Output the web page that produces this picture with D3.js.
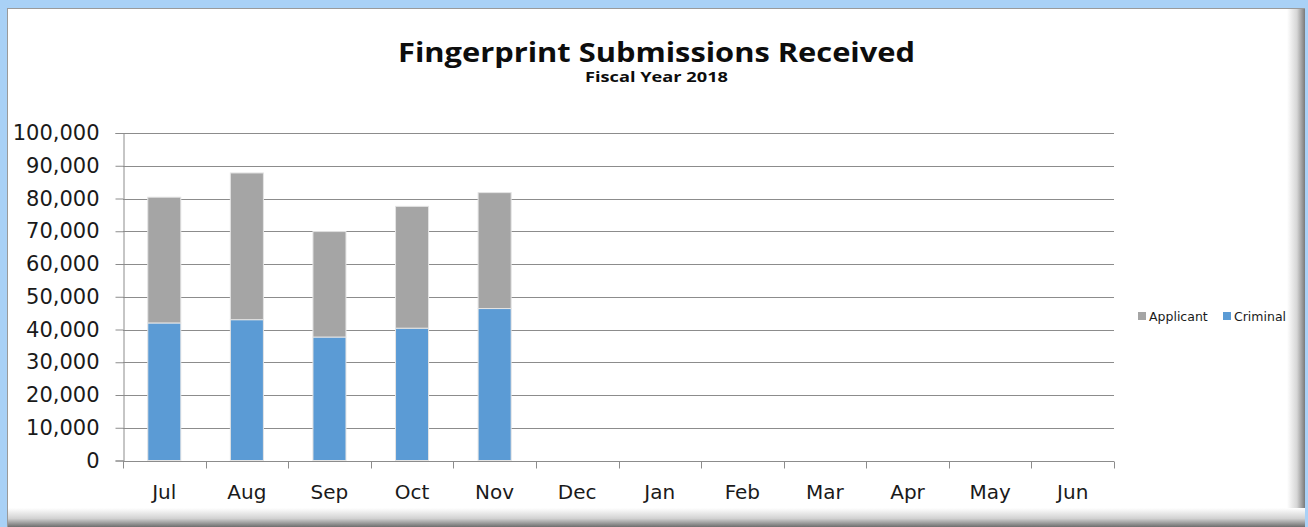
<!DOCTYPE html>
<html>
<head>
<meta charset="utf-8">
<script src="https://cdn.jsdelivr.net/npm/d3@7/dist/d3.min.js"></script>
<style>
  html, body { margin: 0; padding: 0; background: #ffffff; }
  svg { display: block; }
</style>
</head>
<body>
<svg id="chart" width="1308" height="527"></svg>
<script>
// Fiscal year months and monthly submission counts
const months = ["Jul", "Aug", "Sep", "Oct", "Nov", "Dec", "Jan", "Feb", "Mar", "Apr", "May", "Jun"];
const criminal = [42000, 43000, 37700, 40400, 46400];
const applicant = [38400, 44800, 32200, 37200, 35400];
const yTicks = [0, 10000, 20000, 30000, 40000, 50000, 60000, 70000, 80000, 90000, 100000];
const seriesNames = ["Applicant", "Criminal"];

const colors = { Applicant: "#a5a5a5", Criminal: "#5b9bd5" };

const W = 1308, H = 527;
const plot = { left: 123, right: 1114, top: 133, bottom: 460.5 };

const svg = d3.select("#chart");
const defs = svg.append("defs");

// Window-style frame with a soft drop shadow on the right and bottom
const gR = defs.append("linearGradient").attr("id", "shadeR").attr("x1", 0).attr("x2", 1).attr("y1", 0).attr("y2", 0);
gR.append("stop").attr("offset", 0).attr("stop-color", "#ffffff");
gR.append("stop").attr("offset", 0.55).attr("stop-color", "#d6d6d6");
gR.append("stop").attr("offset", 1).attr("stop-color", "#7a7a7a");
const gB = defs.append("linearGradient").attr("id", "shadeB").attr("x1", 0).attr("x2", 0).attr("y1", 0).attr("y2", 1);
gB.append("stop").attr("offset", 0).attr("stop-color", "#ffffff");
gB.append("stop").attr("offset", 0.55).attr("stop-color", "#d2d2d2");
gB.append("stop").attr("offset", 1).attr("stop-color", "#6e6e6e");

svg.append("rect").attr("x", 0).attr("y", 0).attr("width", W).attr("height", H).attr("fill", "#a9d1f6");
svg.append("rect").attr("x", 7).attr("y", 8).attr("width", 1298).attr("height", H - 8).attr("fill", "#ffffff");
svg.append("rect").attr("x", 1287).attr("y", 8).attr("width", 18).attr("height", H - 8).attr("fill", "url(#shadeR)");
svg.append("rect").attr("x", 7).attr("y", 508).attr("width", 1298).attr("height", 19).attr("fill", "url(#shadeB)");
svg.append("line").attr("x1", 7.5).attr("x2", 7.5).attr("y1", 8).attr("y2", H).attr("stroke", "#9a9a9a");
svg.append("line").attr("x1", 7).attr("x2", 1305).attr("y1", 8.5).attr("y2", 8.5).attr("stroke", "#9a9a9a");

// Scales
const x = d3.scaleBand().domain(months).range([plot.left, plot.right]).paddingInner(0.6).paddingOuter(0.3);
const xCat = d3.scaleBand().domain(months).range([plot.left, plot.right]).padding(0);
const y = d3.scaleLinear().domain([0, 100000]).range([plot.bottom, plot.top]);

const fmt = d3.format(",");
const axisFont = "'DejaVu Sans', 'Open Sans', sans-serif";

// Horizontal gridlines
svg.append("g").selectAll("line").data(yTicks.filter(d => d > 0)).join("line")
  .attr("x1", plot.left).attr("x2", plot.right)
  .attr("y1", d => Math.round(y(d)) + 0.5).attr("y2", d => Math.round(y(d)) + 0.5)
  .attr("stroke", "#8c8c8c").attr("stroke-width", 1);

// Y axis
const yAxis = svg.append("g").attr("transform", `translate(${plot.left + 0.5},0)`)
  .call(d3.axisLeft(y).tickValues(yTicks).tickFormat(fmt).tickSize(8).tickPadding(16));
yAxis.select(".domain").attr("stroke", "#8c8c8c");
yAxis.selectAll(".tick line").attr("stroke", "#8c8c8c");
yAxis.selectAll(".tick text").attr("font-family", axisFont).attr("font-size", 21).attr("fill", "#1a1a1a");

// Stacked bars: criminal at the base, applicant on top
const rows = criminal.map((c, i) => ({ month: months[i], Criminal: c, Applicant: applicant[i] }));
const stack = d3.stack().keys(["Criminal", "Applicant"])(rows);
svg.append("g").selectAll("g").data(stack).join("g")
  .attr("fill", d => colors[d.key])
  .selectAll("rect").data(d => d).join("rect")
  .attr("x", d => x(d.data.month))
  .attr("width", x.bandwidth())
  .attr("y", d => y(d[1]))
  .attr("height", d => y(d[0]) - y(d[1]))
  .attr("stroke", "#e4e4e4").attr("stroke-width", 1);

// X axis with tick marks at category boundaries
const xAxisY = Math.round(y(0)) + 0.5;
const xg = svg.append("g");
xg.append("line").attr("x1", plot.left).attr("x2", plot.right).attr("y1", xAxisY).attr("y2", xAxisY).attr("stroke", "#8c8c8c");
const bounds = months.map(m => xCat(m)).concat([xCat(months[months.length - 1]) + xCat.bandwidth()]);
xg.selectAll("line.tk").data(bounds).join("line").attr("class", "tk")
  .attr("x1", d => Math.round(d) + 0.5).attr("x2", d => Math.round(d) + 0.5)
  .attr("y1", xAxisY).attr("y2", xAxisY + 7).attr("stroke", "#8c8c8c");
xg.selectAll("text").data(months).join("text")
  .attr("x", d => xCat(d) + xCat.bandwidth() / 2)
  .attr("y", 499)
  .attr("text-anchor", "middle")
  .attr("font-family", axisFont).attr("font-size", 20).attr("fill", "#1a1a1a")
  .text(d => d);

// Titles
svg.append("text").attr("x", 656.5).attr("y", 61.5).attr("text-anchor", "middle")
  .attr("font-family", "'Open Sans', sans-serif").attr("font-weight", 700).attr("font-size", 26)
  .attr("textLength", 517).attr("lengthAdjust", "spacingAndGlyphs")
  .attr("fill", "#0d0d0d").text("Fingerprint Submissions Received");
svg.append("text").attr("x", 656.5).attr("y", 82).attr("text-anchor", "middle")
  .attr("font-family", "'Open Sans', sans-serif").attr("font-weight", 700).attr("font-size", 14.5)
  .attr("textLength", 143).attr("lengthAdjust", "spacingAndGlyphs")
  .attr("fill", "#0d0d0d").text("Fiscal Year 2018");

// Legend
const legendPos = { Applicant: 1138, Criminal: 1223 };
const lg = svg.append("g").selectAll("g").data(seriesNames).join("g")
  .attr("transform", d => `translate(${legendPos[d]},312)`);
lg.append("rect").attr("width", 8).attr("height", 8).attr("fill", d => colors[d]);
lg.append("text").attr("x", 11).attr("y", 8.5)
  .attr("font-family", axisFont).attr("font-size", 12.5).attr("fill", "#1a1a1a")
  .text(d => d);
</script>
</body>
</html>
